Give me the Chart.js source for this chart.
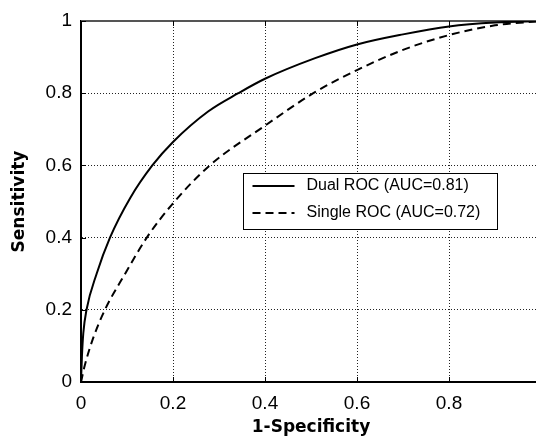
<!DOCTYPE html>
<html>
<head>
<meta charset="utf-8">
<script src="https://cdn.jsdelivr.net/npm/chart.js@4.4.0/dist/chart.umd.min.js"></script>
<style>
  html, body { margin: 0; padding: 0; background: #fff; overflow: hidden; }
  #frame { width: 536px; height: 438px; overflow: hidden; }
  #box { width: 560px; height: 438px; }
</style>
</head>
<body>
<div id="frame"><div id="box"><canvas id="rocChart"></canvas></div></div>
<script>
// values
const dualFpr = [0, 0.002, 0.005, 0.012, 0.034, 0.063, 0.107, 0.155, 0.2, 0.277, 0.342, 0.4, 0.509, 0.6, 0.7, 0.8, 0.9, 1];
const dualTpr = [0, 0.07, 0.135, 0.2, 0.3, 0.4, 0.51, 0.6, 0.665, 0.75, 0.8, 0.84, 0.897, 0.935, 0.963, 0.985, 0.996, 1];

const singleFpr = [0, 0.008, 0.026, 0.052, 0.096, 0.143, 0.2, 0.28, 0.4, 0.505, 0.6, 0.7, 0.8, 0.9, 1];
const singleTpr = [0, 0.045, 0.12, 0.2, 0.3, 0.4, 0.495, 0.6, 0.71, 0.8, 0.864, 0.92, 0.961, 0.988, 1];

const seriesLabels = ["Dual ROC (AUC=0.81)", "Single ROC (AUC=0.72)"];
const xTickLabels = ["0", "0.2", "0.4", "0.6", "0.8", ""];
const yTickLabels = ["0", "0.2", "0.4", "0.6", "0.8", "1"];

const toPoints = (xs, ys) => xs.map((x, i) => ({ x: x, y: ys[i] }));

// top frame line, inward tick marks and the boxed legend
const frameMarks = {
  id: "frameMarks",
  beforeDatasetsDraw(chart) {
    const { ctx, chartArea: a, scales } = chart;
    ctx.save();
    ctx.strokeStyle = "#555";
    ctx.lineWidth = 2;
    ctx.beginPath();
    ctx.moveTo(a.left, a.top);
    ctx.lineTo(a.right, a.top);
    ctx.stroke();

    ctx.strokeStyle = "#000";
    ctx.lineWidth = 1;
    scales.x.ticks.forEach((t) => {
      const px = Math.round(scales.x.getPixelForValue(t.value)) + 0.5;
      ctx.beginPath();
      ctx.moveTo(px, a.bottom);
      ctx.lineTo(px, a.bottom - 5);
      ctx.moveTo(px, a.top);
      ctx.lineTo(px, a.top + 5);
      ctx.stroke();
    });
    scales.y.ticks.forEach((t) => {
      const py = Math.round(scales.y.getPixelForValue(t.value)) + 0.5;
      ctx.beginPath();
      ctx.moveTo(a.left, py);
      ctx.lineTo(a.left + 5, py);
      ctx.stroke();
    });
    ctx.restore();
  },
  afterDraw(chart) {
    const { ctx, chartArea: a } = chart;
    const left = Math.round(a.left + 162) + 0.5;
    const top = Math.round(a.top + 152) + 0.5;
    ctx.save();
    ctx.fillStyle = "#fff";
    ctx.fillRect(left, top, 254, 56);
    ctx.strokeStyle = "#000";
    ctx.lineWidth = 1;
    ctx.strokeRect(left, top, 254, 56);
    ctx.font = "16px 'Liberation Sans', Arial, sans-serif";
    ctx.textBaseline = "middle";
    ctx.fillStyle = "#000";
    chart.data.datasets.forEach((ds, i) => {
      const y = top + 12.5 + i * 27;
      ctx.strokeStyle = ds.borderColor;
      ctx.lineWidth = 2;
      ctx.setLineDash(ds.borderDash || []);
      ctx.beginPath();
      ctx.moveTo(left + 9, y);
      ctx.lineTo(left + 51, y);
      ctx.stroke();
      ctx.setLineDash([]);
      ctx.fillText(ds.label, left + 63, y);
    });
    ctx.restore();
  },
};

const tickFont = { family: "'Liberation Sans', Arial, sans-serif", size: 19 };
const titleFont = { family: "'DejaVu Sans', sans-serif", size: 17, weight: "bold" };

const ctx = document.getElementById("rocChart").getContext("2d");

const rocChart = new Chart(ctx, {
  type: "scatter",
  data: {
    datasets: [
      {
        label: seriesLabels[0],
        data: toPoints(dualFpr, dualTpr),
        showLine: true,
        borderColor: "#000",
        borderWidth: 2,
        pointRadius: 0,
        cubicInterpolationMode: "monotone",
      },
      {
        label: seriesLabels[1],
        data: toPoints(singleFpr, singleTpr),
        showLine: true,
        borderColor: "#000",
        borderWidth: 2,
        borderDash: [8, 5],
        pointRadius: 0,
        cubicInterpolationMode: "monotone",
      },
    ],
  },
  options: {
    responsive: true,
    maintainAspectRatio: false,
    animation: false,
    layout: {
      padding: { top: 21, right: 19, left: 0, bottom: 0 },
    },
    plugins: {
      legend: { display: false },
      tooltip: { enabled: false },
    },
    scales: {
      x: {
        type: "linear",
        min: 0,
        max: 1,
        afterFit: (scale) => {
          scale.height = 56;
        },
        grid: {
          color: "#222",
          lineWidth: 1,
          drawTicks: false,
        },
        border: { display: true, color: "#000", width: 2, dash: [1, 2] },
        ticks: {
          stepSize: 0.2,
          autoSkip: false,
          maxRotation: 0,
          padding: 10,
          color: "#000",
          font: tickFont,
          callback: (value, index) => xTickLabels[index],
        },
        title: {
          display: true,
          text: "1-Specificity",
          color: "#000",
          padding: { top: 0, bottom: 0 },
          font: titleFont,
        },
      },
      y: {
        type: "linear",
        min: 0,
        max: 1,
        afterFit: (scale) => {
          scale.width = 81;
        },
        grid: {
          color: "#222",
          lineWidth: 1,
          drawTicks: false,
        },
        border: { display: true, color: "#000", width: 2, dash: [1, 2] },
        ticks: {
          stepSize: 0.2,
          autoSkip: false,
          padding: 9,
          color: "#000",
          font: tickFont,
          callback: (value, index) => yTickLabels[index],
        },
        title: {
          display: true,
          text: "Sensitivity",
          color: "#000",
          padding: { top: 9, bottom: 0 },
          font: titleFont,
        },
      },
    },
  },
  plugins: [frameMarks],
});
</script>
</body>
</html>
